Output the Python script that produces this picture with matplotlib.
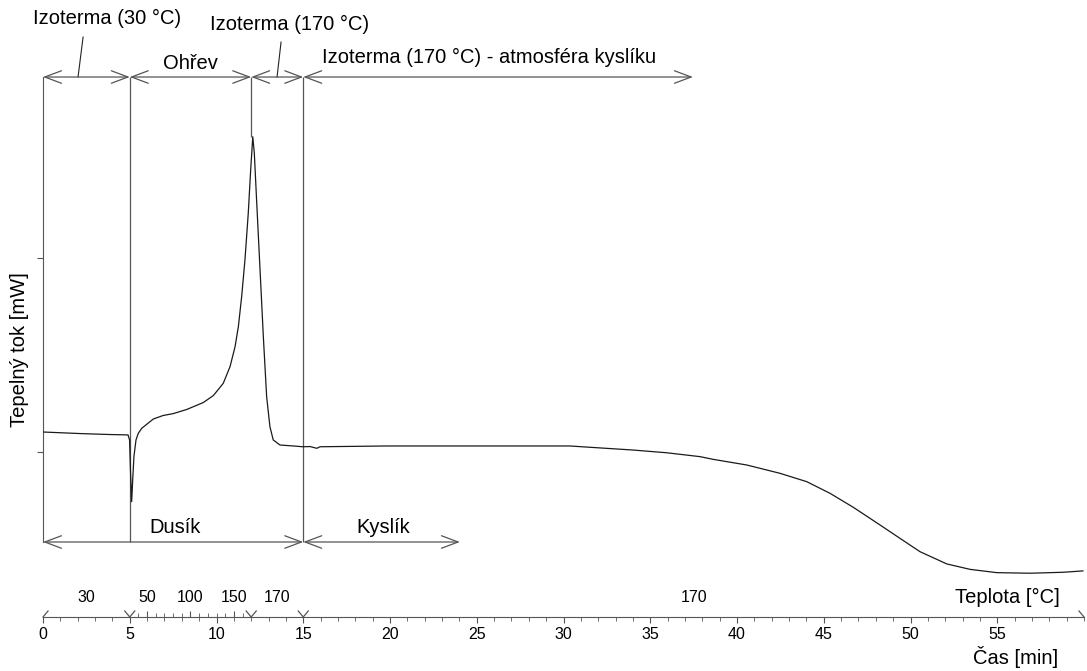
import matplotlib
matplotlib.use('Agg')
import matplotlib.pyplot as plt
import numpy as np
from matplotlib.ticker import MultipleLocator, FixedLocator, NullFormatter

plt.rcParams['font.family'] = ['Liberation Sans', 'DejaVu Sans']

# DSC zaznam: cas [min] a tepelny tok (relativni jednotky, osa bez hodnot)
cas = np.array([0, 2.13, 3.86, 4.90, 4.99, 5.04, 5.11, 5.17, 5.24, 5.36, 5.49, 5.69,
                5.98, 6.36, 6.92, 7.51, 8.28, 9.24, 9.82, 10.39, 10.78, 11.07, 11.26,
                11.45, 11.64, 11.83, 11.97, 12.09, 12.18, 12.32, 12.51, 12.70, 12.89,
                13.08, 13.27, 13.66, 14.43, 14.97, 15.39, 15.78, 15.97, 19.81, 30.37,
                32.10, 34.02, 35.95, 37.87, 38.63, 40.56, 42.48, 44.02, 45.36, 46.70,
                48.24, 49.39, 50.55, 52.09, 53.43, 54.97, 56.89, 58.81, 59.94])
tok = np.array([0.103, 0.095, 0.090, 0.088, 0.062, -0.093, -0.256, -0.144, -0.024,
                0.062, 0.096, 0.122, 0.143, 0.170, 0.188, 0.198, 0.219, 0.255, 0.291,
                0.354, 0.440, 0.543, 0.646, 0.801, 0.990, 1.230, 1.454, 1.625, 1.540,
                1.282, 0.938, 0.594, 0.285, 0.130, 0.062, 0.036, 0.031, 0.027, 0.028,
                0.019, 0.027, 0.031, 0.031, 0.021, 0.010, -0.004, -0.024, -0.038,
                -0.067, -0.110, -0.153, -0.213, -0.285, -0.376, -0.445, -0.514,
                -0.577, -0.605, -0.622, -0.625, -0.620, -0.613])

# teplotni program
hranice = [0, 5, 12, 15, 60]          # hranice useku [min]
t_start, t_izo = 30, 170               # [°C]
rychlost = 20                          # [°C/min]
konec_kysliku = 37.46                  # konec sipky "atmosfera kysliku" [min]
konec_kyslik = 24.03                   # konec sipky "Kyslik" [min]
teploty_ohrev = np.arange(40, 170, 10)
teploty_popis = [50, 100, 150]

seda = '#555555'
fig = plt.figure(figsize=(10.87, 6.71), dpi=100)

# hlavni graf
ax = fig.add_axes([43 / 1087, 0, 1041 / 1087, 1])
ax.set_xlim(0, 60)
ax.set_ylim(-1.129, 2.330)
ax.patch.set_visible(False)
for s in ['top', 'right', 'bottom']:
    ax.spines[s].set_visible(False)
y_hore, y_dole = 1.933, -0.464
ax.spines['left'].set_bounds(y_dole, y_hore)
ax.spines['left'].set_color(seda)
ax.set_xticks([])
ax.set_yticks([0, 1])
ax.set_yticklabels([])
ax.tick_params(axis='y', direction='out', length=4, color=seda)

ax.plot(cas, tok, color='#1a1a1a', lw=0.9, zorder=3)

# svisle cary na hranicich useku
ax.vlines([hranice[1], hranice[3]], y_dole, y_hore, color=seda, lw=0.9)
ax.vlines(hranice[2], tok.max(), y_hore, color=seda, lw=0.9)

sipka = dict(arrowstyle='<->,head_length=1.2,head_width=0.45', color=seda, lw=0.9,
             shrinkA=0, shrinkB=0, mutation_scale=10)
for a, b in [(hranice[0], hranice[1]), (hranice[1], hranice[2]),
             (hranice[2], hranice[3]), (hranice[3], konec_kysliku)]:
    ax.annotate('', xy=(b, y_hore), xytext=(a, y_hore), arrowprops=sipka)
for a, b in [(hranice[0], hranice[3]), (hranice[3], konec_kyslik)]:
    ax.annotate('', xy=(b, y_dole), xytext=(a, y_dole), arrowprops=sipka)

fs = 14.5
ax.text(-0.58, 2.237, 'Izoterma (30 °C)', fontsize=fs, ha='left', va='center')
ax.plot([2.02, 2.31], [y_hore, 2.139], color='#222222', lw=0.8)
ax.text(9.63, 2.206, 'Izoterma (170 °C)', fontsize=fs, ha='left', va='center')
ax.plot([13.49, 13.72], [y_hore, 2.113], color='#222222', lw=0.8)
ax.text(8.47, 2.005, 'Ohřev', fontsize=fs, ha='center', va='center')
ax.text(16.08, 2.036, 'Izoterma (170 °C) - atmosféra kyslíku', fontsize=fs,
        ha='left', va='center')
ax.text(7.6, -0.387, 'Dusík', fontsize=fs, ha='center', va='center')
ax.text(19.6, -0.387, 'Kyslík', fontsize=fs, ha='center', va='center')

fig.text(20 / 1087, 1 - 350 / 671, 'Tepelný tok [mW]', fontsize=fs, rotation=90,
         ha='center', va='center')

# casova osa + teplotni osa
rect = [43 / 1087, (671 - 617) / 671, 1041 / 1087, 40 / 671]
ax2 = fig.add_axes(rect)
ax2.patch.set_visible(False)
ax2.set_xlim(0, 60)
ax2.set_ylim(0, 40)
for s in ['top', 'right', 'left']:
    ax2.spines[s].set_visible(False)
ax2.spines['bottom'].set_color(seda)
ax2.set_yticks([])
ax2.xaxis.set_major_locator(MultipleLocator(5))
ax2.xaxis.set_minor_locator(MultipleLocator(1))
ax2.set_xticks(np.arange(0, 60, 5))
ax2.tick_params(axis='x', which='major', direction='out', length=4.5, color=seda,
                pad=3, labelsize=11.5)
ax2.tick_params(axis='x', which='minor', direction='out', length=3, color=seda)

ax3 = fig.add_axes(rect, frameon=False)
ax3.set_xlim(0, 60)
ax3.set_ylim(0, 40)
ax3.set_yticks([])
t_ohrev = hranice[1] + (teploty_ohrev - t_start) / rychlost
t_popis = hranice[1] + (np.array(teploty_popis) - t_start) / rychlost
ax3.xaxis.set_major_locator(FixedLocator(t_popis))
ax3.xaxis.set_minor_locator(FixedLocator(t_ohrev))
ax3.xaxis.set_major_formatter(NullFormatter())
ax3.tick_params(axis='x', which='major', direction='in', length=4.5, color=seda)
ax3.tick_params(axis='x', which='minor', direction='in', length=3, color=seda)

# polovicni hroty na hranicich teplotnich useku
dx, dy = 0.29, 6
for i, b in enumerate(hranice):
    if i > 0:
        ax2.plot([b, b - dx], [0, dy], color=seda, lw=0.9, clip_on=False)
    if i < len(hranice) - 1:
        ax2.plot([b, b + dx], [0, dy], color=seda, lw=0.9, clip_on=False)

popisky = [str(t_start)] + [str(t) for t in teploty_popis] + [str(t_izo), str(t_izo)]
pozice = [np.mean(hranice[0:2])] + list(t_popis) + [np.mean(hranice[2:4]), np.mean(hranice[3:5])]
for p, txt in zip(pozice, popisky):
    ax2.text(p, 19, txt, fontsize=11.5, ha='center', va='center')

ax2.text(58.6, 20, 'Teplota [°C]', fontsize=fs, ha='right', va='center')
ax2.text(58.5, -40, 'Čas [min]', fontsize=fs, ha='right', va='center')

fig.savefig('out.png', dpi=100)
